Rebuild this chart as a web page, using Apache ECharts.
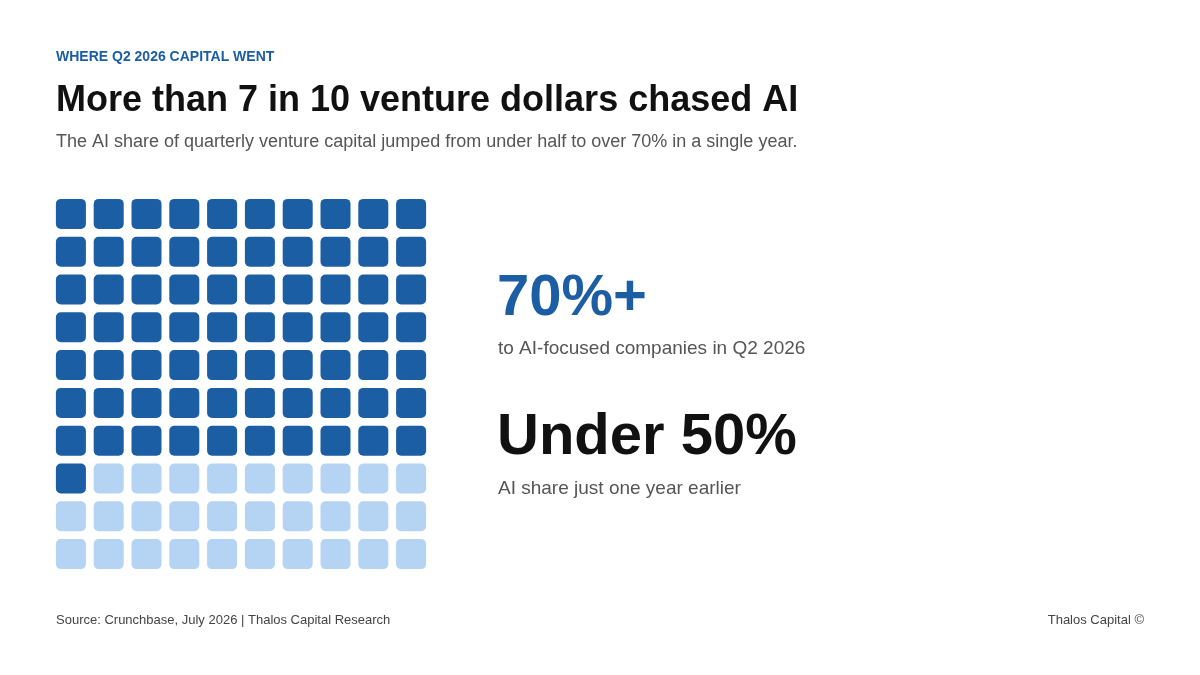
<!DOCTYPE html>
<html>
<head>
<meta charset="utf-8">
<title>Where Q2 2026 capital went</title>
<script src="https://cdn.jsdelivr.net/npm/echarts@6/dist/echarts.min.js"></script>
<style>
  html, body { margin: 0; padding: 0; background: #fff; }
  #chart { width: 1200px; height: 675px; }
</style>
</head>
<body>
<div id="chart"></div>
<script>
// share of Q2 2026 venture dollars, shown as a 10x10 waffle
const gridCols = 10
const gridRows = 10
const aiCells = 71 // "70%+"
const priorShareLabel = 'Under 50%'

const statLines = ['70%+', 'to AI-focused companies in Q2 2026', priorShareLabel, 'AI share just one year earlier']

const darkBlue = '#1b5ea3'
const lightBlue = '#b5d3f3'
const font = '"Liberation Sans", Arial, sans-serif'

// one cell per percent, filled row by row from the top left
const cells = []
for (let r = 0; r < gridRows; r++) {
  for (let c = 0; c < gridCols; c++) {
    const idx = r * gridCols + c
    cells.push([c, r, idx < aiCells ? 1 : 0])
  }
}

const chart = echarts.init(document.getElementById('chart'))

const option = {
  backgroundColor: '#fff',
  animation: false,
  grid: { left: 52, top: 195, width: 378, height: 378 },
  xAxis: { type: 'value', min: -0.5, max: gridCols - 0.5, show: false },
  yAxis: { type: 'value', min: -0.5, max: gridRows - 0.5, inverse: true, show: false },
  series: [{
    type: 'custom',
    data: cells,
    renderItem: (params, api) => {
      const center = api.coord([api.value(0), api.value(1)])
      const unit = api.size([1, 1])
      const w = unit[0] * 0.794
      const h = unit[1] * 0.794
      return {
        type: 'rect',
        shape: { x: center[0] - w / 2, y: center[1] - h / 2, width: w, height: h, r: 5 },
        style: { fill: api.value(2) ? darkBlue : lightBlue }
      }
    }
  }],
  graphic: [
    { type: 'text', left: 56, top: 50, style: { text: 'WHERE Q2 2026 CAPITAL WENT', font: 'bold 14px ' + font, fill: darkBlue } },
    { type: 'text', left: 56, top: 83, style: { text: 'More than 7 in 10 venture dollars chased AI', font: 'bold 36px ' + font, fill: '#111' } },
    { type: 'text', left: 56, top: 133, style: { text: 'The AI share of quarterly venture capital jumped from under half to over 70% in a single year.', font: '18px ' + font, fill: '#555' } },

    { type: 'text', left: 497, top: 270, style: { text: statLines[0], font: 'bold 58px ' + font, fill: darkBlue } },
    { type: 'text', left: 498, top: 339, style: { text: statLines[1], font: '19px ' + font, fill: '#555' } },
    { type: 'text', left: 497, top: 409, style: { text: statLines[2], font: 'bold 58px ' + font, fill: '#111' } },
    { type: 'text', left: 498, top: 479, style: { text: statLines[3], font: '19px ' + font, fill: '#555' } },

    { type: 'text', left: 56, top: 614, style: { text: 'Source: Crunchbase, July 2026 | Thalos Capital Research', font: '13px ' + font, fill: '#444' } },
    { type: 'text', right: 56, top: 614, style: { text: 'Thalos Capital \u00a9', font: '13px ' + font, fill: '#444' } }
  ]
}

chart.setOption(option)
</script>
</body>
</html>
